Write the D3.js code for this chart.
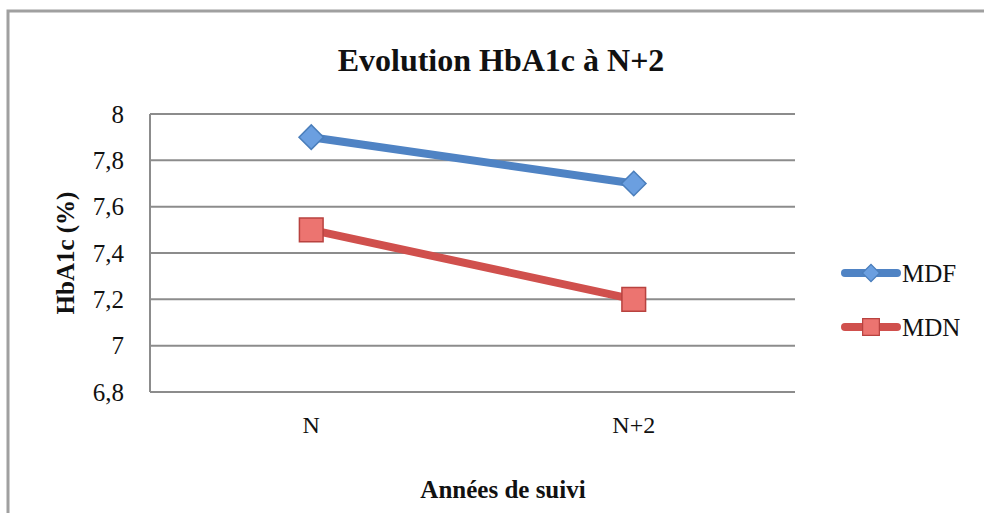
<!DOCTYPE html>
<html><head><meta charset="utf-8">
<script src="https://cdn.jsdelivr.net/npm/d3@7"></script>
<style>body{margin:0;background:#fff}svg{display:block}</style>
</head><body>
<svg id="c" width="984" height="513"></svg>
<script>
const categories = ["N", "N+2"];
const seriesNames = ["MDF", "MDN"];
const mdf = [7.9, 7.7];
const mdn = [7.5, 7.2];
const yTicks = [6.8, 7, 7.2, 7.4, 7.6, 7.8, 8];

(function () {
const svg = d3.select("#c");
const serif = "'Liberation Serif', 'DejaVu Serif', serif";

svg.append("rect").attr("x", 8).attr("y", 11).attr("width", 1000).attr("height", 600)
  .attr("fill", "#fff").attr("stroke", "#a0a0a0").attr("stroke-width", 3);

const pL = 150, pR = 795, pT = 114, pB = 392;
const x = d3.scaleBand().domain(categories).range([pL, pR]);
const y = d3.scaleLinear().domain([6.8, 8]).range([pB, pT]);

// gridlines
svg.append("g").selectAll("line").data(yTicks).join("line")
  .attr("x1", pL).attr("x2", pR)
  .attr("y1", d => y(d)).attr("y2", d => y(d))
  .attr("stroke", "#8c8c8c").attr("stroke-width", 2);
svg.append("line").attr("x1", pL).attr("x2", pL).attr("y1", pT).attr("y2", pB)
  .attr("stroke", "#8c8c8c").attr("stroke-width", 2);

// y axis labels
const fmt = d => String(d).replace(".", ",");
const yAxis = d3.axisLeft(y).tickValues(yTicks).tickFormat(fmt).tickSize(0).tickPadding(26);
const gy = svg.append("g").attr("transform", `translate(${pL},0)`).call(yAxis);
gy.select(".domain").remove();
gy.selectAll("text").attr("font-family", serif).attr("font-size", 25).attr("fill", "#111");

// x axis labels
const xAxis = d3.axisBottom(x).tickSize(0).tickPadding(24);
const gx = svg.append("g").attr("transform", `translate(0,${pB})`).call(xAxis);
gx.select(".domain").remove();
gx.selectAll("text").attr("font-family", serif).attr("font-size", 24).attr("fill", "#111");

// title
svg.append("text").attr("x", 501).attr("y", 71).attr("text-anchor", "middle")
  .attr("font-family", serif).attr("font-weight", "bold").attr("font-size", 32)
  .attr("fill", "#111").text("Evolution HbA1c à N+2");

// axis titles
svg.append("text").attr("transform", "translate(74,253) rotate(-90)").attr("text-anchor", "middle")
  .attr("font-family", serif).attr("font-weight", "bold").attr("font-size", 25)
  .attr("fill", "#111").text("HbA1c (%)");
svg.append("text").attr("x", 503).attr("y", 498).attr("text-anchor", "middle")
  .attr("font-family", serif).attr("font-weight", "bold").attr("font-size", 25)
  .attr("fill", "#111").text("Années de suivi");

const cx = c => x(c) + x.bandwidth() / 2;
const line = d3.line().x((d, i) => cx(categories[i])).y(d => y(d));

const series = [
  {name: seriesNames[0], values: mdf, color: "#4f83c4", fill: "#6b9fe0", stroke: "#4a7ebb", shape: d3.symbolSquare, rot: 45, size: 300},
  {name: seriesNames[1], values: mdn, color: "#d0504d", fill: "#ec7470", stroke: "#b8423f", shape: d3.symbolSquare, rot: 0, size: 560}
];

series.forEach(s => {
  svg.append("path").datum(s.values).attr("d", line).attr("fill", "none")
    .attr("stroke", s.color).attr("stroke-width", 8).attr("stroke-linecap", "round");
  svg.append("g").selectAll("path").data(s.values).join("path")
    .attr("transform", (d, i) => `translate(${cx(categories[i])},${y(d)}) rotate(${s.rot})`)
    .attr("d", d3.symbol().type(s.shape).size(s.size))
    .attr("fill", s.fill).attr("stroke", s.stroke).attr("stroke-width", 1.5);
});

// legend
const lg = svg.append("g");
series.forEach((s, i) => {
  const ly = 273 + i * 54;
  lg.append("line").attr("x1", 845).attr("x2", 897).attr("y1", ly).attr("y2", ly)
    .attr("stroke", s.color).attr("stroke-width", 8).attr("stroke-linecap", "round");
  lg.append("path").attr("transform", `translate(871,${ly}) rotate(${s.rot})`)
    .attr("d", d3.symbol().type(s.shape).size(s.size * 0.5))
    .attr("fill", s.fill).attr("stroke", s.stroke).attr("stroke-width", 1.2);
  lg.append("text").attr("x", 902).attr("y", ly + 9).attr("font-family", serif)
    .attr("font-size", 25).attr("fill", "#111").text(s.name);
});
})();
</script>
</body></html>
